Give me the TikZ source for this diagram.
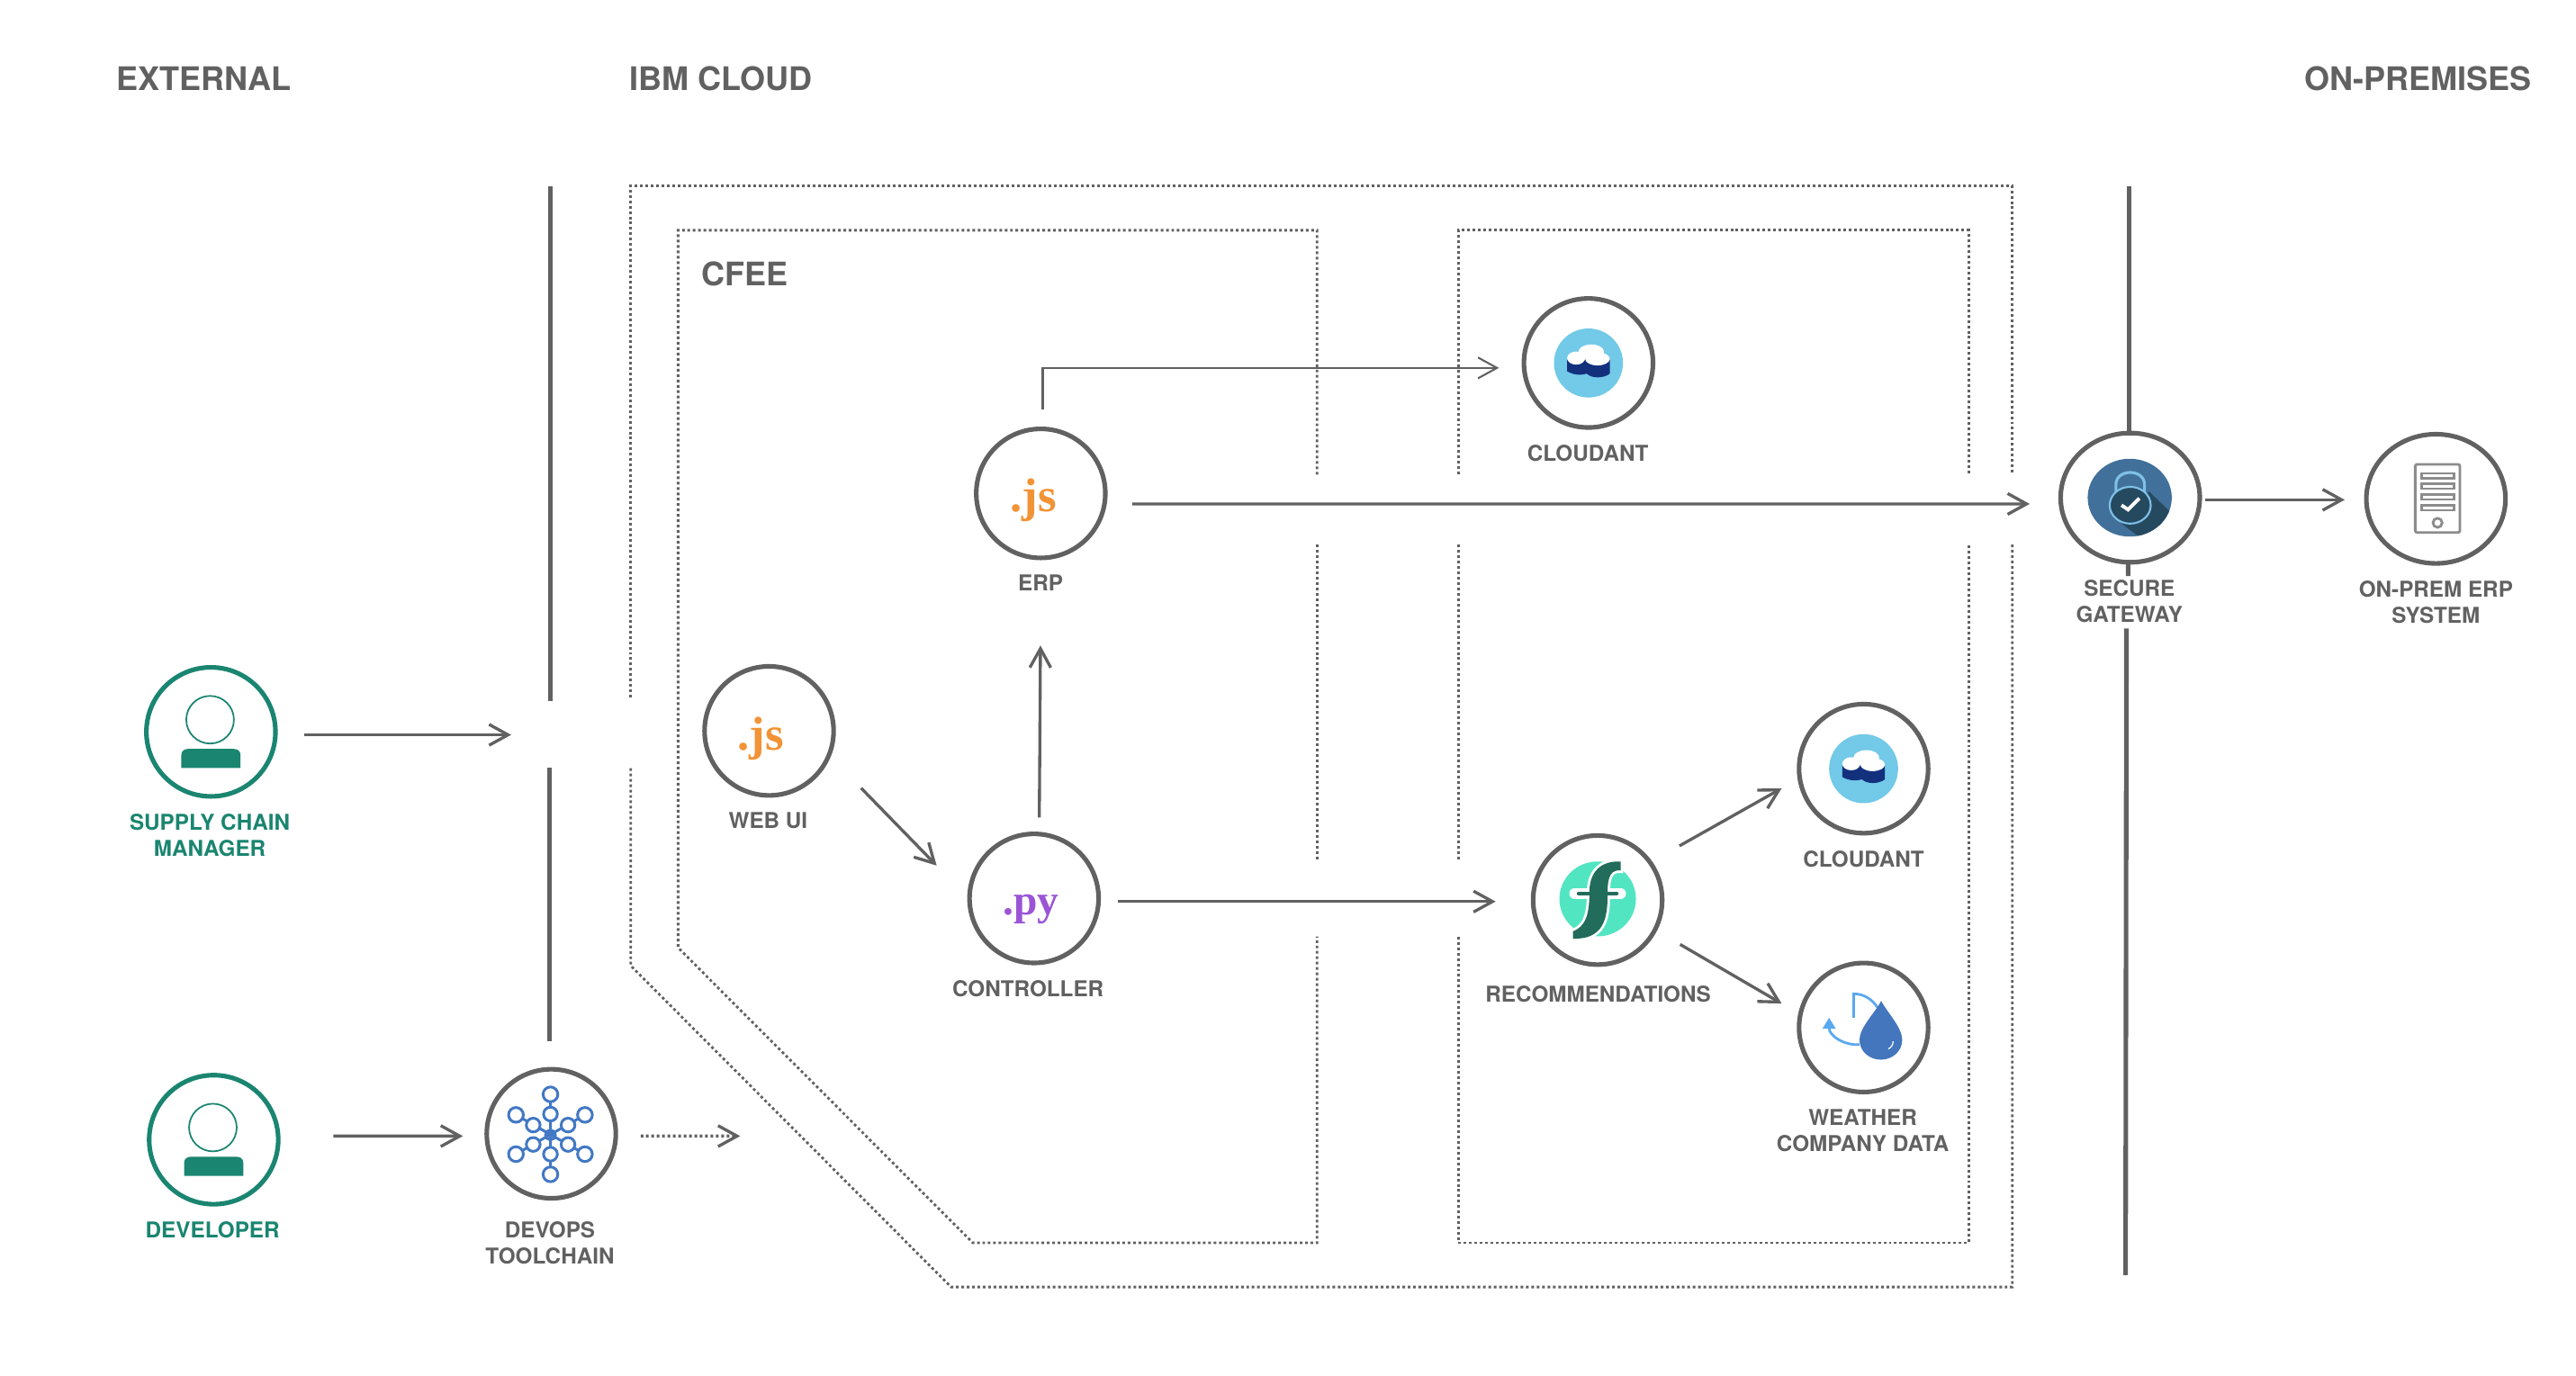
\documentclass[tikz,border=0pt]{standalone}
\usepackage{fontspec}
\setmainfont{TeX Gyre Heros}
\newfontfamily\codefont{Liberation Serif}
\usetikzlibrary{arrows.meta}
\usetikzlibrary{shapes.geometric}
\definecolor{ibmGray}{HTML}{616161}
\definecolor{ibmTeal}{HTML}{1A8570}
\definecolor{jsOrange}{HTML}{F29336}
\definecolor{pyPurple}{HTML}{9A55D6}
\definecolor{cloudantSky}{HTML}{72C9E8}
\definecolor{cloudantNavy}{HTML}{13307D}
\definecolor{whiskMint}{HTML}{52E5C2}
\definecolor{whiskDark}{HTML}{216C5A}
\definecolor{dropBlue}{HTML}{4376BD}
\definecolor{dropSky}{HTML}{5AA9F0}
\definecolor{lockBlue}{HTML}{41719A}
\definecolor{lockDark}{HTML}{254A60}
\definecolor{lockSky}{HTML}{7FC0E8}
\definecolor{serverGray}{HTML}{8C8C8C}
\definecolor{chainBlue}{HTML}{4278C4}
\tikzset{%
  ring/.style={circle, draw=ibmGray, line width=1.45pt, minimum size=1.434cm, inner sep=0pt, outer sep=0pt},
  personRing/.style={ring, draw=ibmTeal},
  wideRing/.style={ellipse, draw=ibmGray, line width=1.45pt, minimum width=1.546cm, minimum height=1.436cm, inner sep=0pt, outer sep=0pt},
  %
  heading/.style={inner sep=0pt, text=ibmGray, font=\fontsize{10.25}{12}\selectfont\bfseries},
  caption/.style={inner sep=0pt, align=center, text=ibmGray, font=\fontsize{6.9}{8.26}\selectfont\bfseries},
  personCaption/.style={caption, text=ibmTeal},
  jsCode/.style={anchor=base, inner sep=0pt, text=jsOrange, font=\fontsize{15}{15}\selectfont\codefont\bfseries},
  pyCode/.style={anchor=base, inner sep=0pt, text=pyPurple, font=\fontsize{13.5}{15}\selectfont\codefont\bfseries},
  % ---
  % lines
  % ---
  flow/.style={-{Straight Barb[length=6pt,width=6.6pt]}, draw=ibmGray, line width=.95pt},
  thinFlow/.style={flow, line width=.6pt},
  dottedFlow/.style={flow, dash pattern=on .85pt off .85pt},
  wall/.style={draw=ibmGray, line width=1.45pt},
  zone/.style={draw=ibmGray, line width=.8pt, dash pattern=on .85pt off .85pt},
  chain/.style={draw=chainBlue, line width=.85pt},
  server/.style={draw=serverGray, line width=.8pt},
  % -----
  % icons
  % -----
  personIcon/.pic={
    \draw[ibmTeal, line width=.5pt] (-.5,-7.4) circle (14.5);
    \fill[ibmTeal] (-18,22) -- (-18,14) .. controls (-18,11.5) and (-16,10.4) .. (-14,10.4) -- (14,10.4) .. controls (16,10.4) and (18,11.5) .. (18,14) -- (18,22) -- cycle;
  },
  cloudantIcon/.pic={
    \fill[cloudantSky] (0,0) circle (21);
    \fill[cloudantNavy] (-13,-2) -- (-13,5) .. controls (-9,7.5) and (-4,7.5) .. (-1,6.5) .. controls (2,9.5) and (9,9.5) .. (13,6.5) -- (13,-2) -- cycle;
    \fill[white] (-7.5,-3) ellipse (5.5 and 4);
    \fill[white] (1.7,-6.8) ellipse (7.8 and 4.5);
    \fill[white] (5.5,-2.5) ellipse (7.5 and 4);
  }}

\begin{document}
\begin{tikzpicture}[x=0.01825cm, y=-0.01825cm]
    \useasboundingbox (0,0) rectangle (1568.2,837.26);

    \node[heading] (external) at (124,48) {EXTERNAL};
    \node[heading] (ibmcloud) at (439,48) {IBM CLOUD};
    \node[heading] (onpremises) at (1472,48) {ON-PREMISES};
    \node[heading] (cfee) at (453.6,166.7) {CFEE};

    % zones
    \draw[zone] (384,424.8) -- (384,113) -- (1225,113) -- (1225,288.9);
    \draw[zone] (1225,331.5) -- (1225,783.6) -- (579,783.6) -- (384,588) -- (384,467);
    \draw[zone] (801.8,288.9) -- (801.8,140.2) -- (412.8,140.2) -- (412.8,577) -- (592.2,756.7) -- (801.8,756.7) -- (801.8,570.2);
    \draw[zone] (801.8,331.5) -- (801.8,524.2);
    \draw[zone] (887.8,288.9) -- (887.8,140.2) -- (1198.5,140.2) -- (1198.5,288.9);
    \draw[zone] (887.8,331.5) -- (887.8,524.2);
    \draw[zone] (887.8,570.2) -- (887.8,756.7) -- (1198.5,756.7) -- (1198.5,331.5);

    \node[personRing] (supply) at (128.4,445.6) {};
    \node[personRing] (developer) at (130.1,693.9) {};
    \node[ring] (devops) at (335.6,690.3) {};
    \node[ring] (webui) at (468.2,445) {};
    \node[ring] (erp) at (633.6,300.4) {};
    \node[ring] (controller) at (629.5,547) {};
    \node[ring] (cloudantTop) at (967,221) {};
    \node[ring] (recommendations) at (972.6,548) {};
    \node[ring] (cloudantLow) at (1134.5,468) {};
    \node[ring] (weather) at (1134.5,625.6) {};
    \node[wideRing] (gateway) at (1296.8,303) {};
    \node[wideRing] (onprem) at (1482.9,303.7) {};

    \node[personCaption] (supplyText) at (127.7,508.4) {SUPPLY CHAIN\\MANAGER};
    \node[personCaption] (developerText) at (129.4,748.8) {DEVELOPER};
    \node[caption] (devopsText) at (334.8,756.7) {DEVOPS\\TOOLCHAIN};
    \node[caption] (webuiText) at (467.6,499.8) {WEB UI};
    \node[caption] (erpText) at (633.5,355) {ERP};
    \node[caption] (controllerText) at (625.8,601.9) {CONTROLLER};
    \node[caption] (cloudantTopText) at (966.6,275.7) {CLOUDANT};
    \node[caption] (recommendationsText) at (972.9,605.3) {RECOMMENDATIONS};
    \node[caption] (cloudantLowText) at (1134.5,523) {CLOUDANT};
    \node[caption] (weatherText) at (1134,688.5) {WEATHER\\COMPANY DATA};
    \node[caption] (gatewayText) at (1296.3,366) {SECURE\\GATEWAY};
    \node[caption] (onpremText) at (1482.9,366.5) {ON-PREM ERP\\SYSTEM};

    \node[jsCode] (webuiCode) at (463.2,456.6) {.js};
    \node[jsCode] (erpCode) at (629,311.4) {.js};
    \node[pyCode] (controllerCode) at (627.6,557) {.py};

    \pic (supplyIcon) at (supply) {personIcon};
    \pic (developerIcon) at (developer) {personIcon};
    \pic (cloudantTopIcon) at (cloudantTop) {cloudantIcon};
    \pic (cloudantLowIcon) at (cloudantLow) {cloudantIcon};

    % devops chains
    \begin{scope}[shift={(335.1,691)}]
        \draw[chain] (0,-24.7) -- (0,24) (-21,-12.2) -- (21,11.7) (-21,11.7) -- (21,-12.2);
        \filldraw[chain, fill=white] (0,-24.7) circle (4.5) (21,-12.2) circle (4.5) (21,11.7) circle (4.5) (0,24) circle (4.5) (-21,11.7) circle (4.5) (-21,-12.2) circle (4.5);
        \filldraw[chain, fill=white] (0,-12.7) circle (4.2) (10.7,-6) circle (4.2) (10.7,5.8) circle (4.2) (0,11.7) circle (4.2) (-10.5,5.8) circle (4.2) (-10.5,-6) circle (4.2);
        \draw[chain] (0,0) circle (3);
    \end{scope}

    % recommendations
    \begin{scope}[shift={(recommendations.center)}]
        \fill[whiskMint] (0,-.7) ellipse (23.3 and 22.8);
        \draw[white, line width=1.6pt] (14,-23.5) .. controls (-1,-24) and (-5,-14) .. (-5,-5) .. controls (-5,8) and (-7,16) .. (-15,19) -- (-15,23.5) .. controls (3,24) and (6,12) .. (6,-2) .. controls (6,-10) and (6,-19) .. (14,-18) -- cycle;
        \draw[white, line width=3.4pt, line cap=round] (-14,-4) -- (14,-4);
        \fill[whiskDark] (14,-23.5) .. controls (-1,-24) and (-5,-14) .. (-5,-5) .. controls (-5,8) and (-7,16) .. (-15,19) -- (-15,23.5) .. controls (3,24) and (6,12) .. (6,-2) .. controls (6,-10) and (6,-19) .. (14,-18) -- cycle;
        \draw[whiskDark, line width=1.3pt, line cap=round] (-11.5,-4) -- (11.5,-4);
    \end{scope}

    % weather
    \begin{scope}[shift={(weather.center)}]
        \draw[dropSky, line width=.8pt] (-6,-6) -- (-6,-20.5) .. controls (0,-20.5) and (5,-17.5) .. (8.6,-12);
        \draw[dropSky, line width=.8pt, -{Triangle[length=3.5pt,width=4pt]}] (-2.5,10.4) .. controls (-12,11) and (-21,5) .. (-21,-6);
        \fill[dropBlue] (10.7,-16.2) .. controls (7,-9) and (-2.5,0) .. (-2.5,7.5) .. controls (-2.5,14.5) and (3.5,19.6) .. (10.5,19.6) .. controls (17.5,19.6) and (23.5,14.5) .. (23.5,7.5) .. controls (23.5,0) and (14.5,-9) .. (10.7,-16.2) -- cycle;
        \draw[white, line width=.35pt] (18,8.4) .. controls (18,10.5) and (16.5,12.5) .. (15,13);
    \end{scope}

    % gateway lock
    \begin{scope}[shift={(gateway.center)}]
        \fill[lockBlue] (-.3,0) ellipse (25.6 and 23.7);
        \begin{scope}
            \clip (-.3,0) ellipse (25.6 and 23.7);
            \fill[lockDark] (11.5,-3.7) -- (23.9,8.2) -- (23.9,23.7) -- (5.1,23.7) -- (-6.8,14.6) -- cycle;
        \end{scope}
        \draw[lockSky, line width=.9pt] (-8.7,-2) -- (-8.7,-8) .. controls (-8.7,-17.8) and (8.7,-17.8) .. (8.7,-8) -- (8.7,-2);
        \filldraw[fill=lockDark, draw=lockSky, line width=.6pt] (0,4.6) ellipse (12.5 and 11.2);
        \draw[white, line width=1.1pt] (-5.3,4.6) -- (-1.3,7.3) -- (5.6,.4);
    \end{scope}

    % server
    \begin{scope}[shift={(onprem.center)}]
        \draw[server, rounded corners=.6pt] (-12.6,-21) rectangle (14.6,20.5);
        \draw[server] (-8.7,-15.5) rectangle (10.9,-12.5) (-8.7,-9.2) rectangle (10.9,-6.2) (-8.7,-2.6) rectangle (10.9,.4) (-8.7,4) rectangle (10.9,7);
        \draw[server] (1,14.6) circle (2.8);
    \end{scope}

    % free ends
    \coordinate (entry) at (311.2,447.4);
    \coordinate (cfeeEntry) at (450.6,691.7);
    \coordinate (leftTop) at (334.9,113.2);
    \coordinate (leftGapA) at (334.9,426.6);
    \coordinate (leftGapB) at (334.5,467.5);
    \coordinate (leftEnd) at (334.5,633.8);
    \coordinate (rightTop) at (1296,113.2);
    \coordinate (rightStub) at (1295.5,350.7);
    \coordinate (rightGap) at (1294.5,382.6);
    \coordinate (rightEnd) at (1294,776.3);

    \draw[wall] (leftTop) -- (leftGapA);
    \draw[wall] (leftGapB) -- (leftEnd);
    \draw[wall] (rightTop) -- ([shift={(-.8,0)}]gateway.north);
    \draw[wall] ([shift={(-1.3,0)}]gateway.south) -- (rightStub);
    \draw[wall] (rightGap) -- (rightEnd);

    \draw[flow] ([shift={(57,1.8)}]supply.center) -- (entry);
    \draw[flow] ([shift={(72.9,-2.2)}]developer.center) -- ([shift={(-53.8,1.4)}]devops.center);
    \draw[dottedFlow] ([shift={(54.4,1.4)}]devops.center) -- (cfeeEntry);
    \draw[flow] ([shift={(56,34.8)}]webui.center) -- ([shift={(-59.3,-20)}]controller.center);
    \draw[flow] ([shift={(3.2,-49.3)}]controller.center) -- ([shift={(-.2,92.6)}]erp.center);
    \draw[thinFlow] ([shift={(1.2,-51.1)}]erp.center) |- ([shift={(-54.5,3)}]cloudantTop.center);
    \draw[flow] ([shift={(55.6,6.4)}]erp.center) -- ([shift={(-61.2,3.8)}]gateway.center);
    \draw[flow] ([shift={(50.9,1.9)}]controller.center) -- ([shift={(-62.1,.9)}]recommendations.center);
    \draw[flow] ([shift={(49.8,-33)}]recommendations.center) -- ([shift={(-49.9,12)}]cloudantLow.center);
    \draw[flow] ([shift={(50.2,27)}]recommendations.center) -- ([shift={(-49.9,-14.6)}]weather.center);
    \draw[flow] ([shift={(45.4,1.3)}]gateway.center) -- ([shift={(-55.5,.6)}]onprem.center);

    \end{tikzpicture}
\end{document}
